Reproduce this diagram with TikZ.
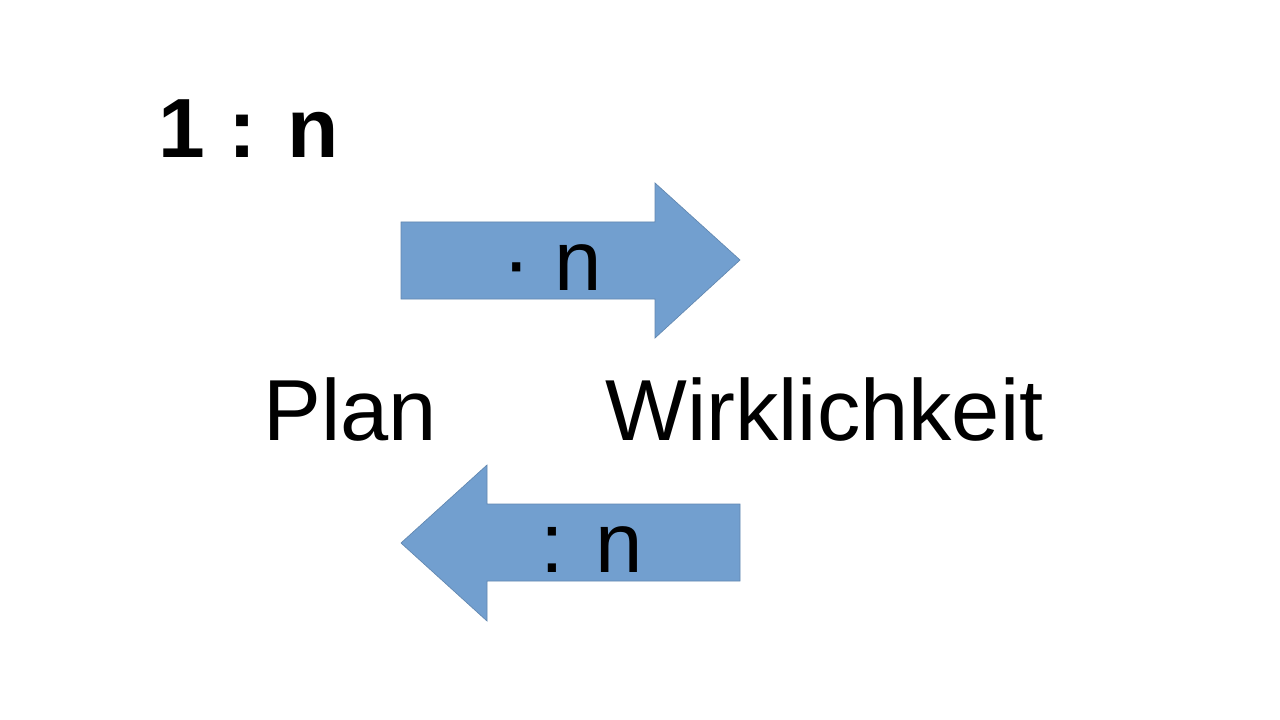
\documentclass[tikz,border=0pt]{standalone}
\usepackage{fontspec}
\setmainfont{Liberation Sans}
\begin{document}
\begin{tikzpicture}[x=0.75pt,y=-0.75pt,
  arr/.style={fill=arrowblue,draw=arrowblue!85!black,line width=0.5pt},
  big/.style={font=\fontsize{64}{70}\selectfont,inner sep=0pt}]
\definecolor{arrowblue}{HTML}{729FCF}
\fill[white] (0,0) rectangle (1280,720);
\useasboundingbox (0,0) rectangle (1280,720);
\node[big,anchor=base west,font=\fontsize{63}{70}\selectfont\bfseries] (ratio) at (158,158) {1 : n};
\draw[arr] (401,222) -- (655,222) -- (655,183) -- (740,260) -- (655,338) -- (655,299) -- (401,299) -- cycle;
\node[big,anchor=base west] (mul) at (502,290) {· n};
\draw[arr] (740,504) -- (487,504) -- (487,465) -- (401,543) -- (487,621) -- (487,581) -- (740,581) -- cycle;
\node[big,anchor=base west] (div) at (540,572) {: n};
\node[big,anchor=base west,font=\fontsize{65}{70}\selectfont] (plan) at (263,440) {Plan};
\node[big,anchor=base west,font=\fontsize{65}{70}\selectfont] (wirk) at (605,440) {Wirklichkeit};
\end{tikzpicture}
\end{document}
